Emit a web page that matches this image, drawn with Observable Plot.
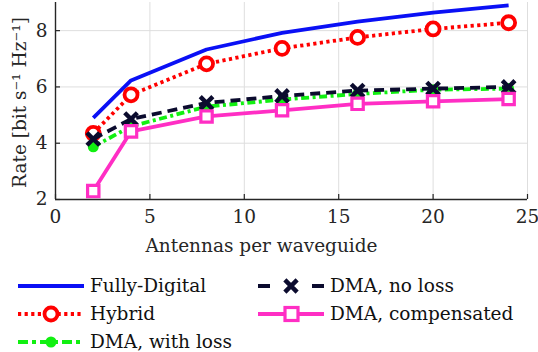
<!DOCTYPE html>
<html>
<head>
<meta charset="utf-8">
<script src="https://cdn.jsdelivr.net/npm/d3@7"></script>
<script src="https://cdn.jsdelivr.net/npm/@observablehq/plot@0.6"></script>
<style>
  html, body { margin: 0; padding: 0; background: #fff; }
  #wrap { width: 538px; height: 352px; position: relative; overflow: hidden; }
</style>
</head>
<body>
<div id="wrap"></div>
<script>
const antennas = [2, 4, 8, 12, 16, 20, 24];
const fullyDigital = [4.9, 6.23, 7.33, 7.92, 8.32, 8.64, 8.9];
const hybrid = [4.35, 5.72, 6.82, 7.37, 7.76, 8.06, 8.28];
const dmaWithLoss = [3.87, 4.6, 5.3, 5.55, 5.75, 5.9, 5.94];
const dmaNoLoss = [4.15, 4.86, 5.43, 5.68, 5.87, 5.94, 6.0];
const dmaCompensated = [2.3, 4.42, 4.95, 5.17, 5.4, 5.49, 5.57];
const seriesNames = ["Fully-Digital", "Hybrid", "DMA, with loss", "DMA, no loss", "DMA, compensated"];
const xTicks = [0, 5, 10, 15, 20, 25];
const yTicks = [2, 4, 6, 8];
const xLabel = "Antennas per waveguide";
const yLabel = "Rate [bit s\u207B\u00B9 Hz\u207B\u00B9]";

const FONT = "'DejaVu Serif', 'Liberation Serif', serif";
const FS = 18.5;
const styles = {
  "Fully-Digital": {color: "#0a10f5", dash: null, legDash: null, symbol: null},
  "Hybrid": {color: "#ff0000", dash: "3.2,3.4", legDash: "3.2,3.4", symbol: "circle"},
  "DMA, with loss": {color: "#11f011", dash: "8,3.5,3,3.5", legDash: "10,4,4,4", symbol: "dot"},
  "DMA, no loss": {color: "#0b0b2e", dash: "10,6", legDash: "12,42", symbol: "times"},
  "DMA, compensated": {color: "#ff2ec4", dash: null, legDash: null, symbol: "square"}
};
const values = [fullyDigital, hybrid, dmaWithLoss, dmaNoLoss, dmaCompensated];
const data = seriesNames.flatMap((s, i) => antennas.map((a, j) => ({series: s, x: a, y: values[i][j]})));
const bySeries = s => data.filter(d => d.series === s);

const xDomain = [0, 25], yDomain = [2, 9];
const W = 538, H = 262, mL = 55, mR = 11, mT = 2, mB = 63;
const tickLen = 5;
const yTickSpan = (yDomain[1] - yDomain[0]) * tickLen / (H - mT - mB);
const xTickSpan = (xDomain[1] - xDomain[0]) * tickLen / (W - mL - mR);

const marks = [
  Plot.gridX(xTicks, {stroke: "#dedede", strokeOpacity: 1, strokeWidth: 1}),
  Plot.gridY(yTicks, {stroke: "#dedede", strokeOpacity: 1, strokeWidth: 1}),
  Plot.axisX(xTicks, {tickSize: 0, tickPadding: 10, fontSize: FS, fill: "#262626", label: null}),
  Plot.axisY(yTicks, {tickSize: 0, tickPadding: 8, fontSize: FS, fill: "#262626", label: null}),
  Plot.ruleX(xTicks, {x: d => d, y1: yDomain[0], y2: yDomain[0] + yTickSpan, stroke: "#262626", strokeWidth: 1.2}),
  Plot.ruleY(yTicks, {y: d => d, x1: xDomain[0], x2: xDomain[0] + xTickSpan, stroke: "#262626", strokeWidth: 1.2}),
];

for (const s of seriesNames) {
  const st = styles[s];
  marks.push(Plot.line(bySeries(s), {x: "x", y: "y", stroke: st.color, strokeWidth: 3.8,
    strokeDasharray: st.dash || undefined, strokeLinecap: "butt", strokeLinejoin: "miter"}));
  if (st.symbol === "circle") marks.push(Plot.dot(bySeries(s), {x: "x", y: "y", r: 6.5, stroke: st.color, strokeWidth: 3.8, fill: "white"}));
  if (st.symbol === "dot") marks.push(Plot.dot(bySeries(s), {x: "x", y: "y", r: 5.5, fill: st.color, stroke: "none"}));
  if (st.symbol === "times") marks.push(Plot.dot(bySeries(s), {x: "x", y: "y", r: 5.8, symbol: "times", stroke: st.color, strokeWidth: 4.4}));
  if (st.symbol === "square") marks.push(Plot.dot(bySeries(s), {x: "x", y: "y", r: 6.4, symbol: "square", stroke: st.color, strokeWidth: 3.2, fill: "white"}));
}
marks.push(Plot.ruleY([yDomain[0]], {stroke: "#262626", strokeWidth: 1.4}));
marks.push(Plot.ruleX([xDomain[0]], {stroke: "#262626", strokeWidth: 1.4}));
marks.push(Plot.text([xLabel], {text: d => d, frameAnchor: "bottom", dy: 52, dx: -30, fontSize: FS, fill: "#262626"}));

const chart = Plot.plot({
  width: W,
  height: H,
  marginLeft: mL,
  marginRight: mR,
  marginTop: mT,
  marginBottom: mB,
  style: {background: "white", overflow: "visible"},
  x: {domain: xDomain, axis: null},
  y: {domain: yDomain, axis: null},
  marks
});
d3.select(chart).style("display", "block");
document.getElementById("wrap").appendChild(chart);

// rotated y label
d3.select(chart).append("text")
  .attr("transform", `translate(20,${mT + (H - mT - mB) / 2 + 2}) rotate(-90)`)
  .attr("text-anchor", "middle").attr("dy", "0.35em")
  .attr("font-size", FS).attr("fill", "#262626").text(yLabel);

// Legend
const legendItems = [
  {name: "Fully-Digital", col: 0, row: 0},
  {name: "Hybrid", col: 0, row: 1},
  {name: "DMA, with loss", col: 0, row: 2},
  {name: "DMA, no loss", col: 1, row: 0},
  {name: "DMA, compensated", col: 1, row: 1}
];
const leg = d3.select("#wrap").append("svg").attr("width", W).attr("height", 352 - H)
  .style("display", "block");
const colX = [18, 258], rowY = [286 - H, 314 - H, 342 - H];
for (const it of legendItems) {
  const st = styles[it.name];
  const g = leg.append("g").attr("transform", `translate(${colX[it.col]},${rowY[it.row]})`);
  g.append("line").attr("x1", 0).attr("x2", 66).attr("y1", 0).attr("y2", 0)
    .attr("stroke", st.color).attr("stroke-width", 3.8)
    .attr("stroke-dasharray", st.legDash || null);
  if (st.symbol === "circle") g.append("circle").attr("cx", 33).attr("r", 6.5).attr("fill", "white").attr("stroke", st.color).attr("stroke-width", 3.8);
  if (st.symbol === "dot") g.append("circle").attr("cx", 33).attr("r", 5.5).attr("fill", st.color);
  if (st.symbol === "times") g.append("path").attr("transform", "translate(33,0)").attr("d", d3.symbol(d3.symbolTimes, 100)()).attr("stroke", st.color).attr("stroke-width", 4.4);
  if (st.symbol === "square") g.append("rect").attr("x", 27).attr("y", -6.5).attr("width", 13).attr("height", 13).attr("fill", "white").attr("stroke", st.color).attr("stroke-width", 3.2);
  g.append("text").attr("x", 72).attr("y", 0).attr("dy", "0.35em").attr("font-size", FS).attr("fill", "#111").text(it.name);
}
d3.selectAll("#wrap text").style("font-family", FONT);
</script>
</body>
</html>
